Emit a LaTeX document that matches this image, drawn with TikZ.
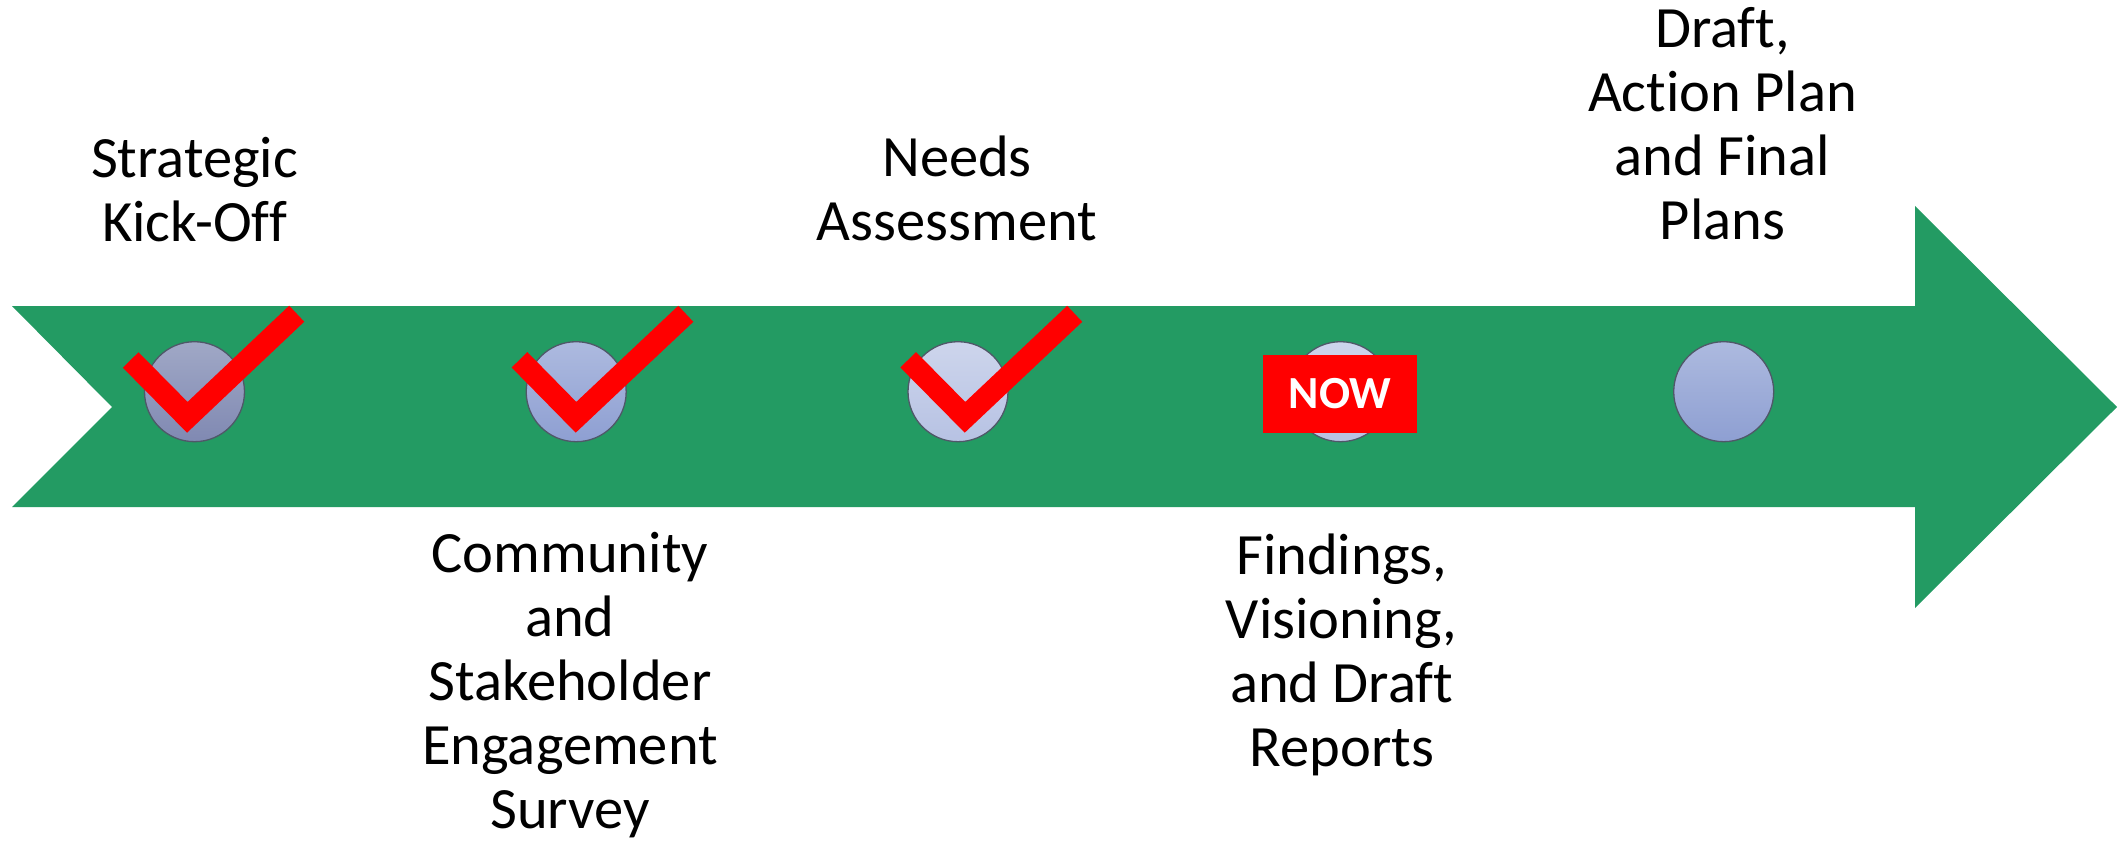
\documentclass[tikz,border=0pt]{standalone}
\usepackage{fontspec}
\setmainfont{Carlito}[Ligatures=NoCommon]
\definecolor{arrowgreen}{HTML}{239B63}
\definecolor{ringgrey}{HTML}{4F5868}
\definecolor{dotAtop}{HTML}{A0A8C6}
\definecolor{dotAbot}{HTML}{8089B2}
\definecolor{dotBtop}{HTML}{ADBADF}
\definecolor{dotBbot}{HTML}{8E9FD2}
\definecolor{dotCtop}{HTML}{CDD5EC}
\definecolor{dotCbot}{HTML}{B7C2E3}
\begin{document}
\begin{tikzpicture}[x=1pt,y=-1pt,
  dot/.style={circle,draw=ringgrey,line width=1.3pt,minimum size=100pt,inner sep=0pt},
  checkmark/.style={draw=red,line width=22pt,line cap=butt,line join=miter},
  lbl/.style={align=center,inner sep=0pt,font=\fontsize{58.5}{64}\selectfont},
  nowbox/.style={fill=red,minimum width=154pt,minimum height=78pt,inner sep=0pt,text=white,font=\fontsize{46}{50}\selectfont\bfseries}]
\useasboundingbox (0,0) rectangle (2125,842);
% big arrow
\fill[arrowgreen] (12,306) -- (1915,306) -- (1915,206) -- (2117,407) -- (1915,608) -- (1915,507) -- (12,507) -- (112,407) -- cycle;
% milestones
\node[dot,top color=dotAtop,bottom color=dotAbot] (c1) at (194.5,391.7) {};
\node[dot,top color=dotBtop,bottom color=dotBbot] (c2) at (576.2,391.7) {};
\node[dot,top color=dotCtop,bottom color=dotCbot] (c3) at (958,391.7) {};
\node[dot,top color=dotCtop,bottom color=dotCbot] (c4) at (1340.5,391.7) {};
\node[dot,top color=dotBtop,bottom color=dotBbot] (c5) at (1723.7,391.7) {};
% check marks
\coordinate (k1a) at (130.7,360);  \coordinate (k1b) at (187.3,417.3); \coordinate (k1c) at (296.7,313.7);
\coordinate (k2a) at (519.5,359.8); \coordinate (k2b) at (576,417.3);  \coordinate (k2c) at (685.8,313.8);
\coordinate (k3a) at (908.2,359.8); \coordinate (k3b) at (965,417.3);  \coordinate (k3c) at (1074.7,313.8);
\draw[checkmark] (k1a) -- (k1b) -- (k1c);
\draw[checkmark] (k2a) -- (k2b) -- (k2c);
\draw[checkmark] (k3a) -- (k3b) -- (k3c);
% now badge
\node[nowbox] (now) at (1340,394) {NOW};
% labels
\node[lbl,anchor=base] (t1) at (194.5,241.7) {Strategic\\Kick-Off};
\node[lbl,anchor=base] (t3) at (957,240.7) {Needs\\Assessment};
\node[lbl,anchor=base] (t5) at (1722.5,240) {Draft,\\Action Plan\\and Final\\Plans};
\node[lbl,anchor=base] (t2) at (570,828.3) {Community\\and\\Stakeholder\\Engagement\\Survey};
\node[lbl,anchor=base] (t4) at (1341.7,766.7) {Findings,\\Visioning,\\and Draft\\Reports};
\end{tikzpicture}
\end{document}
